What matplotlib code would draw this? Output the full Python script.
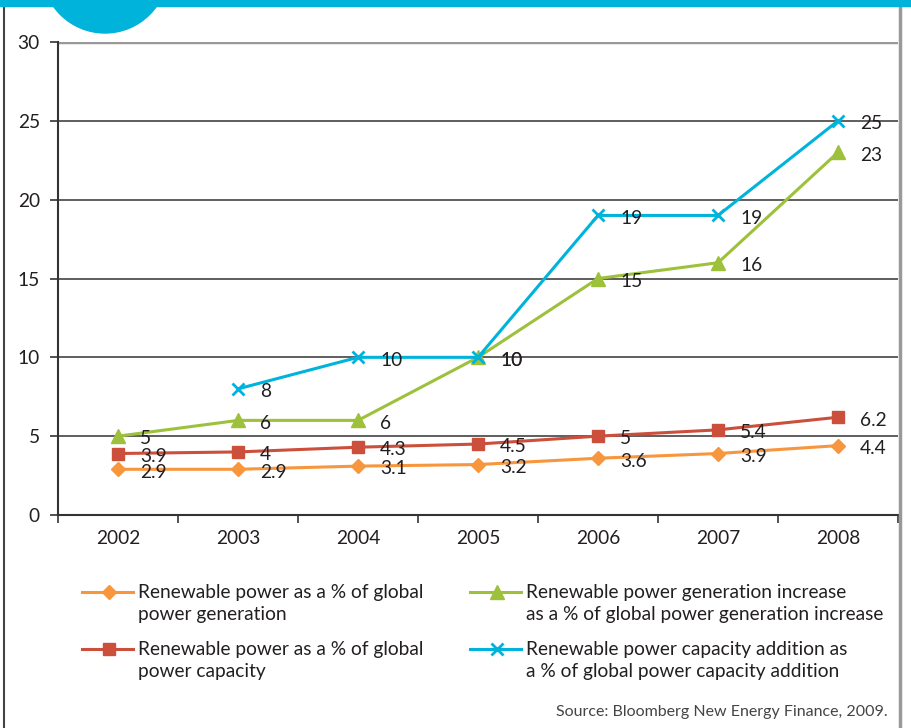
import numpy as np
import matplotlib
matplotlib.use('Agg')
import matplotlib.pyplot as plt
from matplotlib.lines import Line2D
from matplotlib.patches import Circle, Rectangle

plt.rcParams['font.family'] = ['Lato', 'DejaVu Sans']

# Data
years = [2002, 2003, 2004, 2005, 2006, 2007, 2008]
share_gen = [2.9, 2.9, 3.1, 3.2, 3.6, 3.9, 4.4]
share_cap = [3.9, 4, 4.3, 4.5, 5, 5.4, 6.2]
gen_increase = [5, 6, 6, 10, 15, 16, 23]
cap_addition = [None, 8, 10, 10, 19, 19, 25]

series_names = ['Renewable power as a % of global\npower generation',
                'Renewable power as a % of global\npower capacity',
                'Renewable power generation increase\nas a % of global power generation increase',
                'Renewable power capacity addition as\na % of global power capacity addition']

c_orange = '#F7963D'
c_red = '#CB4F3A'
c_green = '#9DC13B'
c_cyan = '#00B3DB'
txt = '#231F20'
fs = 13.8

fig = plt.figure(figsize=(9.11, 7.28), dpi=100)
ax = fig.add_axes([58/911, 1-515/728, 840/911, 473/728])

x = np.arange(len(years))

def draw(vals, color, marker, ms, mew=1.0):
    xs = [i for i, v in enumerate(vals) if v is not None]
    ys = [v for v in vals if v is not None]
    ax.plot(xs, ys, color=color, lw=2.2, marker=marker, ms=ms,
            mec=color, mfc=color, mew=mew, zorder=3, clip_on=False)
    for xi, yi in zip(xs, ys):
        ax.annotate('%g' % yi, (xi, yi), xytext=(16, -2), textcoords='offset points',
                    ha='left', va='center', fontsize=fs, color=txt, zorder=4)

draw(share_gen, c_orange, 'D', 7.5)
draw(share_cap, c_red, 's', 9)
draw(gen_increase, c_green, '^', 10)
draw(cap_addition, c_cyan, 'x', 8, mew=2)

ax.set_xlim(-0.5, 6.5)
ax.set_ylim(0, 30)
ax.set_yticks(range(0, 31, 5))
ax.set_xticks(x)
ax.set_xticklabels([str(y) for y in years])
ax.set_xticks(np.arange(-0.5, 7, 1), minor=True)
ax.tick_params(axis='x', which='major', length=0, pad=11, labelsize=fs, labelcolor=txt)
ax.tick_params(axis='x', which='minor', length=6, width=1.2, color='#333333', direction='out')
ax.tick_params(axis='y', length=6, width=1.2, color='#333333', pad=7, labelsize=fs,
               labelcolor=txt)

for yv in range(5, 30, 5):
    ax.axhline(yv, color='#333333', lw=1.1, zorder=1)
ax.axhline(30, color='#999999', lw=2.5, zorder=1)

for s in ['top', 'right']:
    ax.spines[s].set_visible(False)
ax.spines['left'].set_color('#333333')
ax.spines['left'].set_linewidth(1.5)
ax.spines['bottom'].set_color('#333333')
ax.spines['bottom'].set_linewidth(1.5)

# Page decoration: header band, circle and side rules
fig.add_artist(Rectangle((0, 1-6/728), 1, 6/728, transform=fig.transFigure,
                         color=c_cyan, zorder=5))
fig.add_artist(Circle((105, 728+30), 63, transform=None, color=c_cyan, zorder=5))
fig.add_artist(Line2D([3.5/911, 3.5/911], [0, 1], transform=fig.transFigure,
                      color='#444444', lw=1.5))
fig.add_artist(Line2D([899.5/911, 899.5/911], [0, 1-6/728], transform=fig.transFigure,
                      color='#999999', lw=2.5))

# Legend
legend_items = [(c_orange, 'D', 7.5, 1.0, 82, 592),
                (c_red, 's', 9, 1.0, 82, 649),
                (c_green, '^', 10, 1.0, 470, 592),
                (c_cyan, 'x', 8, 2.0, 470, 649)]
for (col, mk, ms, mew, lx, ly), name in zip(legend_items, series_names):
    fy = 1 - ly/728
    fig.add_artist(Line2D([lx/911, (lx+51)/911], [fy, fy], transform=fig.transFigure,
                          color=col, lw=2.2))
    fig.add_artist(Line2D([(lx+27)/911], [fy], transform=fig.transFigure, color=col,
                          marker=mk, ms=ms, mec=col, mfc=col, mew=mew))
    fig.text((lx+56)/911, 1-(ly-8)/728, name, ha='left', va='top', fontsize=fs,
             color=txt, linespacing=1.38)

fig.text(888/911, 1-712/728, 'Source: Bloomberg New Energy Finance, 2009.',
         ha='right', va='center', fontsize=11.5, color='#444444')

fig.savefig('out.png', dpi=100)
